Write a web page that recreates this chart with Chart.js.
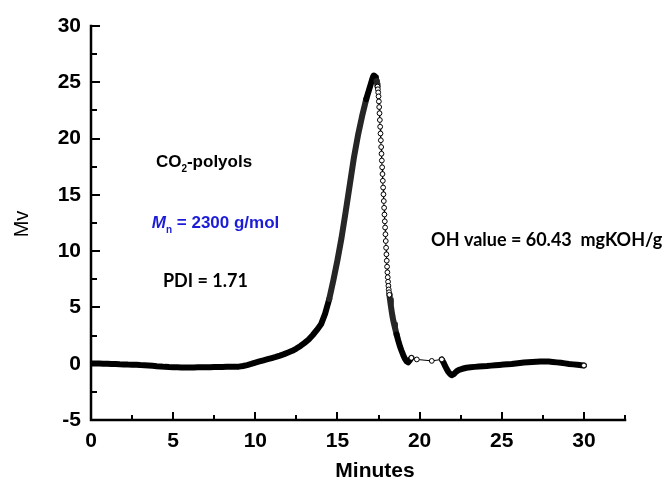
<!DOCTYPE html>
<html>
<head>
<meta charset="utf-8">
<script src="https://cdn.jsdelivr.net/npm/chart.js@4.4.1/dist/chart.umd.min.js"></script>
<style>
  html, body { margin: 0; padding: 0; background: #fff; }
</style>
</head>
<body>
<canvas id="gpc" width="668" height="484"></canvas>
<script>
// GPC trace: detector signal (mV) against elution time (min)
const minutes = [
  0, 0.25, 0.5, 0.75, 1, 1.25, 1.5, 1.75, 2, 2.25, 2.5, 2.75, 3, 3.25, 3.5, 3.75,
  4, 4.25, 4.5, 4.75, 5, 5.25, 5.5, 5.75, 6, 6.25, 6.5, 6.75, 7, 7.25, 7.5, 7.75,
  8, 8.25, 8.5, 8.75, 9, 9.25, 9.5, 9.75, 10, 10.25, 10.5, 10.75, 11, 11.25, 11.5, 11.75,
  12, 12.25, 12.5, 12.75, 13, 13.25, 13.5, 13.75, 14, 14.25, 14.5, 14.75, 15, 15.25,
  15.5, 15.75, 16, 16.25, 16.5, 16.75, 17, 17.1, 17.18, 17.22, 17.26, 17.3, 17.34, 17.38,
  17.4, 17.42, 17.44, 17.46, 17.48, 17.5, 17.52, 17.54, 17.56, 17.58, 17.6, 17.62, 17.64,
  17.66, 17.68, 17.7, 17.72, 17.74, 17.76, 17.78, 17.8, 17.82, 17.84, 17.86, 17.88, 17.9,
  17.92, 17.94, 17.96, 17.98, 18, 18.02, 18.04, 18.06, 18.08, 18.1, 18.12, 18.14, 18.16,
  18.18, 18.2, 18.25, 18.3, 18.35, 18.4, 18.45, 18.5, 18.6, 18.7, 18.8, 18.9, 19, 19.1,
  19.2, 19.3, 19.4, 19.5, 19.83, 20.74, 21.35, 21.45, 21.55, 21.65, 21.75, 21.85, 21.95,
  22.05, 22.15, 22.25, 22.4, 22.6, 22.85, 23.1, 23.35, 23.6, 23.85, 24.1, 24.35, 24.6,
  24.85, 25.1, 25.35, 25.6, 25.85, 26.1, 26.35, 26.6, 26.85, 27.1, 27.35, 27.6, 27.85,
  28.1, 28.35, 28.6, 28.85, 29.1, 29.35, 29.6, 29.85, 30
];
const mv = [
  0.02, 0.02, 0.01, 0, 0, -0.02, -0.03, -0.05, -0.06, -0.08, -0.09, -0.1, -0.12, -0.13, -0.15, -0.18,
  -0.22, -0.25, -0.28, -0.3, -0.31, -0.32, -0.33, -0.33, -0.33, -0.33, -0.32, -0.32, -0.31, -0.31, -0.3, -0.3,
  -0.29, -0.28, -0.28, -0.27, -0.26, -0.2, -0.12, -0.02, 0.1, 0.2, 0.3, 0.4, 0.5, 0.6, 0.72, 0.85,
  1, 1.15, 1.35, 1.58, 1.85, 2.15, 2.55, 3, 3.5, 4.45, 5.75, 7.4, 9.2, 11.2,
  13.5, 15.9, 18.3, 20.3, 22, 23.5, 24.7, 25.2, 25.55, 25.6, 25.55, 25.45, 25.3, 25.1,
  24.98, 24.82, 24.62, 24.38, 24.1, 23.75, 23.3, 22.8, 22.25, 21.65, 21.05, 20.45, 19.85,
  19.25, 18.65, 18.05, 17.45, 16.85, 16.25, 15.65, 15.05, 14.45, 13.85, 13.25, 12.65, 12.1,
  11.5, 10.9, 10.3, 9.72, 9.15, 8.62, 8.12, 7.68, 7.28, 6.92, 6.6, 6.35, 6.12,
  5.9, 5.68, 5.15, 4.65, 4.2, 3.82, 3.5, 3.2, 2.6, 2.05, 1.55, 1.15, 0.78, 0.45,
  0.22, 0.12, 0.3, 0.52, 0.38, 0.25, 0.38, 0.12, -0.2, -0.48, -0.72, -0.9, -1.02,
  -0.95, -0.82, -0.68, -0.54, -0.45, -0.36, -0.32, -0.28, -0.25, -0.22, -0.2, -0.17, -0.14,
  -0.11, -0.08, -0.05, -0.02, 0.02, 0.06, 0.1, 0.13, 0.16, 0.18, 0.2, 0.2, 0.19,
  0.16, 0.12, 0.08, 0.03, -0.02, -0.06, -0.1, -0.14, -0.16
];
const xLimits = [0, 32.5];
const yLimits = [-5, 30];
const tickStep = 5;

const axisFont = "'Liberation Sans', Arial, sans-serif";
const noteFont = "Lato, 'Open Sans', sans-serif";

// How a stretch of the trace looks: dense stretches merge into a solid band,
// fast-moving or missing stretches show the single open symbols.
function segmentKind(chart, i) {
  const dt = minutes[i + 1] - minutes[i];
  if (dt > 0.3) return "gap";
  const xs = chart.scales.x, ys = chart.scales.y;
  if (!xs || !ys) return "dense";
  const dx = xs.getPixelForValue(minutes[i + 1]) - xs.getPixelForValue(minutes[i]);
  const dy = ys.getPixelForValue(mv[i + 1]) - ys.getPixelForValue(mv[i]);
  const speed = Math.hypot(dx, dy) / dt;
  if (!isFinite(speed) || speed < 65) return "dense";
  if (speed < 125) return "mid";
  return "open";
}

function drawRuns(ctx, x, y, runs, color) {
  ctx.fillStyle = color;
  ctx.textBaseline = "middle";
  ctx.textAlign = "left";
  for (const r of runs) {
    ctx.font = r.font;
    ctx.fillText(r.text, x, y + (r.dy || 0));
    x += ctx.measureText(r.text).width;
  }
}

const frame = {
  id: "frame",
  afterDraw(chart) {
    const { ctx, chartArea: a } = chart;
    const xs = chart.scales.x, ys = chart.scales.y;
    ctx.save();

    // axis lines
    ctx.strokeStyle = "#000";
    ctx.lineWidth = 2.5;
    ctx.lineCap = "square";
    ctx.beginPath();
    ctx.moveTo(a.left, ys.getPixelForValue(yLimits[1]));
    ctx.lineTo(a.left, a.bottom);
    ctx.lineTo(a.right, a.bottom);
    ctx.stroke();

    // inward major and minor ticks
    ctx.lineWidth = 2;
    ctx.lineCap = "butt";
    ctx.beginPath();
    for (let v = xLimits[0]; v <= xLimits[1] + 1e-9; v += tickStep / 2) {
      const px = Math.round(xs.getPixelForValue(v));
      const len = Math.abs(v % tickStep) < 1e-9 ? 8 : 5;
      ctx.moveTo(px, a.bottom);
      ctx.lineTo(px, a.bottom - len);
    }
    for (let v = yLimits[0]; v <= yLimits[1] + 1e-9; v += tickStep / 2) {
      const py = Math.round(ys.getPixelForValue(v));
      const len = Math.abs(v % tickStep) < 1e-9 ? 9 : 6;
      ctx.moveTo(a.left, py);
      ctx.lineTo(a.left + len, py);
    }
    ctx.stroke();

    // axis titles
    ctx.fillStyle = "#000";
    ctx.textAlign = "center";
    ctx.textBaseline = "middle";
    ctx.font = "bold 21px " + axisFont;
    ctx.fillText("Minutes", (a.left + a.right) / 2 + 17, 471);
    ctx.save();
    ctx.translate(22, (a.top + a.bottom) / 2 + 1);
    ctx.rotate(-Math.PI / 2);
    ctx.font = "20px " + axisFont;
    ctx.fillText("Mv", 0, 0);
    ctx.restore();

    // sample notes
    const b17 = "bold 17px " + axisFont;
    const sub = "bold 10px " + axisFont;
    drawRuns(ctx, xs.getPixelForValue(3.95), ys.getPixelForValue(17.85), [
      { text: "CO", font: b17 },
      { text: "2", font: sub, dy: 6 },
      { text: "-polyols", font: b17 }
    ], "#000");
    drawRuns(ctx, xs.getPixelForValue(3.7), ys.getPixelForValue(12.45), [
      { text: "M", font: "italic " + b17 },
      { text: "n", font: sub, dy: 7 },
      { text: " = 2300 g/mol", font: b17 }
    ], "#1c1cd8");
    drawRuns(ctx, xs.getPixelForValue(4.38), ys.getPixelForValue(7.37), [
      { text: "PDI = 1.71", font: "bold 18px " + noteFont }
    ], "#000");
    drawRuns(ctx, xs.getPixelForValue(20.7), ys.getPixelForValue(11.0), [
      { text: "OH value = 60.43  mgKOH/g", font: "bold 18px " + noteFont }
    ], "#000");

    ctx.restore();
  }
};

new Chart(document.getElementById("gpc"), {
  type: "line",
  data: {
    datasets: [
      {
        data: minutes.map((m, i) => ({ x: m, y: mv[i] })),
        borderColor: "#000",
        borderWidth: 1,
        borderCapStyle: "round",
        borderJoinStyle: "round",
        tension: 0,
        pointStyle: "circle",
        pointBackgroundColor: "#fff",
        pointBorderColor: "#000",
        pointBorderWidth: 1,
        pointRadius: (ctx) => {
          const i = ctx.dataIndex;
          if (i === minutes.length - 1) return 2.4;
          const kinds = [i > 0 ? segmentKind(ctx.chart, i - 1) : "dense", segmentKind(ctx.chart, i)];
          return kinds.some((k) => k === "open" || k === "gap") ? 2.4 : 0;
        },
        pointHoverRadius: 0,
        segment: {
          borderWidth: (ctx) => {
            const k = segmentKind(ctx.chart, ctx.p0DataIndex);
            return k === "dense" || k === "mid" ? 6 : 1;
          },
          borderColor: (ctx) => (segmentKind(ctx.chart, ctx.p0DataIndex) === "mid" ? "#262626" : "#000")
        }
      }
    ]
  },
  options: {
    responsive: false,
    animation: false,
    events: [],
    layout: { padding: { left: 0, right: 43, top: 26, bottom: 0 } },
    plugins: { legend: { display: false }, tooltip: { enabled: false } },
    scales: {
      x: {
        type: "linear",
        min: xLimits[0],
        max: xLimits[1],
        grid: { display: false, drawTicks: false },
        border: { display: false },
        ticks: {
          stepSize: tickStep,
          includeBounds: false,
          color: "#000",
          padding: 9,
          font: { family: axisFont, size: 21, weight: "bold" }
        },
        afterFit: (scale) => { scale.height = 64; }
      },
      y: {
        min: yLimits[0],
        max: yLimits[1],
        grid: { display: false, drawTicks: false },
        border: { display: false },
        ticks: {
          stepSize: tickStep,
          color: "#000",
          padding: 10,
          font: { family: axisFont, size: 21, weight: "bold" }
        },
        afterFit: (scale) => { scale.width = 91; }
      }
    }
  },
  plugins: [frame]
});
</script>
</body>
</html>
